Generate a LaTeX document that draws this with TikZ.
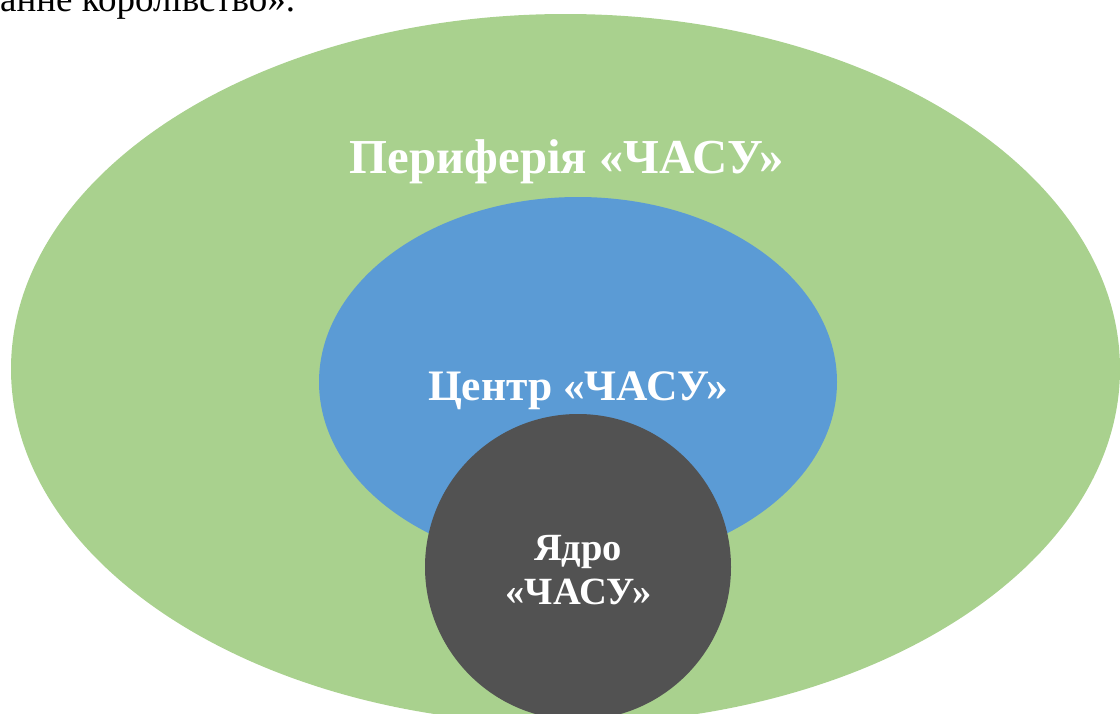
\documentclass[tikz,border=0pt]{standalone}
\usepackage{fontspec}
\setmainfont{Liberation Serif}
\usetikzlibrary{shapes.geometric}
\definecolor{pgreen}{HTML}{A9D18E}
\definecolor{pblue}{HTML}{5B9BD5}
\definecolor{pdark}{HTML}{525252}
\tikzset{
  zone/.style={ellipse, inner sep=0pt, draw=none},
  lbl/.style={text=white, font=\bfseries, inner sep=0pt, anchor=base},
}
\begin{document}
\begin{tikzpicture}[x=1pt,y=-1pt]
\useasboundingbox (0,0) rectangle (1120,713);
\clip (0,0) rectangle (1120,713);
\node[zone, fill=pgreen, minimum width=1109pt, minimum height=710pt] (per) at (565.5,369) {};
\node[zone, fill=pblue, minimum width=518pt, minimum height=370pt] (cen) at (578,382) {};
\node[circle, inner sep=0pt, fill=pdark, minimum size=306pt] (core) at (578,567) {};
\node[lbl, font=\fontsize{48.8}{58}\selectfont\bfseries] (tper) at (567,173) {Периферія «ЧАСУ»};
\node[lbl, font=\fontsize{43.5}{52}\selectfont\bfseries] (tcen) at (578,400) {Центр «ЧАСУ»};
\node[lbl, font=\fontsize{38.5}{44}\selectfont\bfseries] (tcore1) at (578,560) {Ядро};
\node[lbl, font=\fontsize{38.5}{44}\selectfont\bfseries] (tcore2) at (578.5,604) {«ЧАСУ»};
\node[anchor=base west, inner sep=0pt, font=\fontsize{37}{44}\selectfont] (top) at (0,11) {анне королівство».};
\end{tikzpicture}
\end{document}
